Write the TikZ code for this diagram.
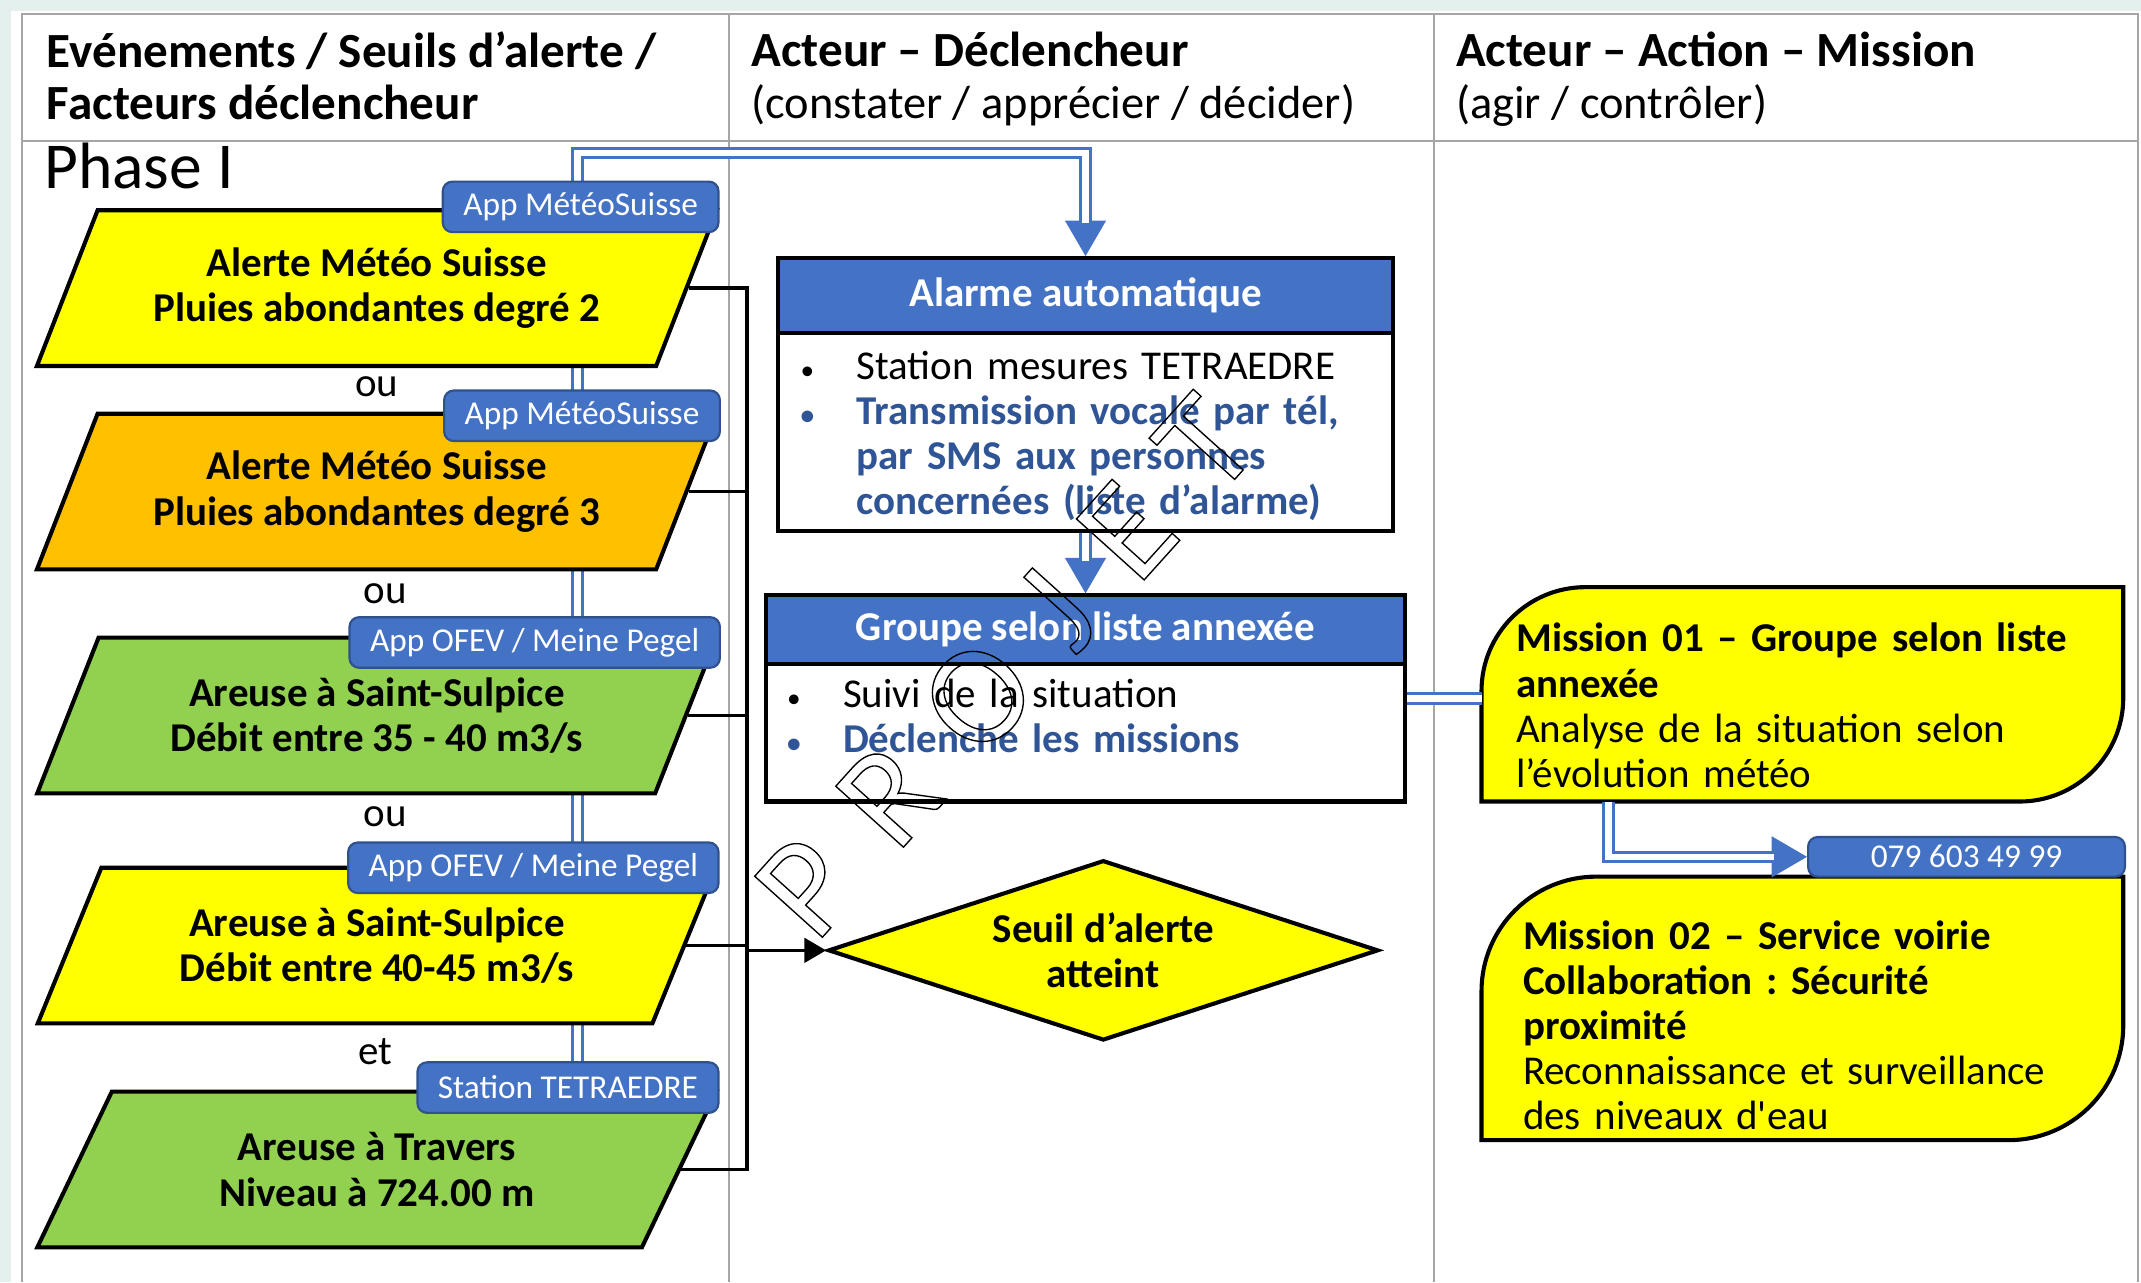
\documentclass[tikz,border=0pt]{standalone}
\usepackage{fontspec}
\setmainfont{Carlito}
\usetikzlibrary{shapes.geometric,arrows.meta,positioning,backgrounds,decorations.pathmorphing}

\definecolor{bandbg}{HTML}{E4F0EE}
\definecolor{gridgray}{HTML}{A6A6A6}
\definecolor{tagblue}{HTML}{4472C4}
\definecolor{tagedge}{HTML}{2F528F}
\definecolor{txtblue}{HTML}{2F5597}
\definecolor{evyellow}{HTML}{FFFF00}
\definecolor{evorange}{HTML}{FFC000}
\definecolor{evgreen}{HTML}{92D050}

\frenchspacing
\newcommand\bodyfont{\fontsize{15}{16.5}\selectfont}
\newcommand\hdrfont{\fontsize{18}{19}\selectfont}
\newcommand\subfont{\fontsize{17}{19}\selectfont}
\newcommand\tagfont{\fontsize{12.2}{14}\selectfont}
\newcommand\blt{\makebox[20.5pt][l]{\fontsize{10}{10}\selectfont\textbullet}}
\newcommand\dblto[1]{\draw[tipline] #1; \draw[dbl, shorten >=12pt] #1;}
\newcommand\wm{\hspace{17.5pt}}
\newlength\mpw

\tikzset{
  tableline/.style={draw=gridgray, line width=0.75pt},
  hdr/.style={font=\hdrfont, align=left, inner sep=0pt, anchor=north west},
  evt/.style={trapezium, trapezium left angle=59, trapezium right angle=121,
    trapezium stretches=true, minimum width=249pt, minimum height=57pt,
    draw=black, line width=1.5pt, inner sep=0pt, align=center, font=\bodyfont\bfseries},
  srctag/.style={draw=tagedge, fill=tagblue, line width=0.8pt, rounded corners=3.5pt,
    text=white, font=\tagfont, minimum height=18.5pt, inner xsep=7.5pt, inner ysep=0pt, anchor=east},
  typo/.style={draw=red, line width=0.4pt, decorate, decoration={snake, amplitude=0.6pt, segment length=2.2pt}},
  conj/.style={font=\bodyfont, inner sep=0pt},
  busline/.style={draw=black, line width=1.25pt},
  dbl/.style={draw=tagblue, double=white, line width=1.15pt, double distance=2.3pt},
  tipline/.style={draw=tagblue, line width=0.5pt, -{Triangle[width=15pt,length=13pt]}},
  boxframe/.style={draw=black, line width=1.5pt, fill=white},
  boxhead/.style={draw=black, line width=1.5pt, fill=tagblue, text=white, font=\bodyfont\bfseries, anchor=north},
  boxitems/.style={font=\bodyfont, text width=200pt, align=left, inner sep=0pt, anchor=north west},
  mission/.style={draw=black, line width=1.5pt, fill=evyellow},
  missiontext/.style={font=\bodyfont, text width=215pt, align=left, inner sep=0pt, anchor=north west},
  seuil/.style={diamond, aspect=3.05, draw=black, line width=1.5pt, fill=evyellow, minimum width=201.5pt,
    minimum height=66pt, inner sep=0pt, align=center, font=\bodyfont\bfseries}
}

\begin{document}
\begin{tikzpicture}[x=0.5pt, y=-0.5pt]
\useasboundingbox (0,0) rectangle (1568,939);

% fond + tableau
\begin{scope}[on background layer]
\fill[bandbg] (0,0) rectangle (1568,939);
\fill[white] (8,8) rectangle (1568,939);
\draw[tableline] (16,939) -- (16,10) -- (1566,10) -- (1566,939);
\draw[tableline] (16,103) -- (1566,103);
\draw[tableline] (534,10) -- (534,939);
\draw[tableline] (1050,10) -- (1050,939);
\end{scope}

\node[hdr] (h1) at (34,23) {\textbf{Evénements / Seuils d’alerte /}\\\textbf{Facteurs déclencheur}};
\node[hdr] (h2) at (550,23) {\textbf{Acteur – Déclencheur}\\{\subfont(constater / apprécier / décider)}};
\node[hdr] (h3) at (1066,23) {\textbf{Acteur – Action – Mission}\\{\subfont(agir / contrôler)}};
\node[anchor=base west, inner sep=0pt, font=\fontsize{24}{26}\selectfont] (phase) at (32,138) {Phase I};

% evenements
\node[evt, fill=evyellow] (ev1) at (276,211) {Alerte Météo Suisse\\Pluies abondantes degré 2};
\node[srctag] (t1) at (527,151.5) {App MétéoSuisse};
\node[conj] (ou1) at (276,283) {ou};
\node[evt, fill=evorange] (ev2) at (276,360) {Alerte Météo Suisse\\Pluies abondantes degré 3};
\node[srctag] (t2) at (528,304.5) {App MétéoSuisse};
\node[conj] (ou2) at (282,435) {ou};
\node[evt, fill=evgreen] (ev3) at (276,524) {Areuse à Saint-Sulpice\\Débit entre 35 - 40 m3/s};
\node[srctag] (t3) at (528,470.5) {App OFEV / Meine Pegel};
\node[conj] (ou3) at (282,598) {ou};
\node[evt, fill=evyellow] (ev4) at (276,692.5) {Areuse à Saint-Sulpice\\Débit entre 40-45 m3/s};
\node[srctag] (t4) at (527,635.5) {App OFEV / Meine Pegel};
\node[conj] (et1) at (275,770) {et};
\node[evt, fill=evgreen] (ev5) at (276,856.5) {Areuse à Travers\\Niveau à 724.00 m};
\node[srctag] (t5) at (527,796.5) {Station TETRAEDRE};

% soulignement correcteur
\settowidth{\mpw}{\tagfont Meine Pegel}
\foreach \t in {t3,t4}
  \draw[typo] ([xshift=-7.5pt,yshift=-2pt]\t.base east) -- ++(-\mpw,0pt);

% acteur - declencheur
\node[boxframe, minimum width=225pt, minimum height=100pt] (alarme) at (795,289) {};
\node[boxhead, minimum width=225pt, minimum height=27.5pt] (alarmehead) at (alarme.north) {Alarme automatique};
\node[boxitems] (alarmelist) at (586,257) {\blt Station mesures TETRAEDRE\\
  {\color{txtblue}\bfseries\blt Transmission vocale par tél,\\
  \hspace*{20.5pt}par SMS aux personnes\\
  \hspace*{20.5pt}concernées (liste d’alarme)}};

\node[boxframe, minimum width=234pt, minimum height=75.5pt] (groupe) at (795,511.5) {};
\node[boxhead, minimum width=234pt, minimum height=25pt] (groupehead) at (groupe.north) {Groupe selon liste annexée};
\node[boxitems] (groupelist) at (576,497) {\blt Suivi de la situation\\
  {\color{txtblue}\bfseries\blt Déclenche les missions}};

\node[seuil] (seuil) at (808,696) {Seuil d’alerte\\atteint};

% bus noir
\coordinate (busx) at (547,0);
\draw[busline] (ev1.east) -- (ev1.east -| busx) -- (ev5.east -| busx) -- (ev5.east);
\foreach \e in {ev2,ev3,ev4} \draw[busline] (\e.east) -- (\e.east -| busx);
\draw[busline, -{Triangle[width=9pt,length=8pt]}] (seuil.west -| busx) -- (seuil.west);

% missions
\coordinate (m1nw) at (1085,430);
\coordinate (m1se) at (1555,587);
\draw[mission] (m1nw |- m1se) [rounded corners=38pt] -- (m1nw) [sharp corners] -- (m1nw -| m1se)
  [rounded corners=38pt] -- (m1se) [sharp corners] -- cycle;
\node[missiontext] (m1txt) at (1110,456) {\textbf{Mission 01 – Groupe selon liste}\\\textbf{annexée}\\
  Analyse de la situation selon\\l’évolution météo};

\coordinate (m2nw) at (1085,642);
\coordinate (m2se) at (1555,835);
\draw[mission] (m2nw |- m2se) [rounded corners=42pt] -- (m2nw) [sharp corners] -- (m2nw -| m2se)
  [rounded corners=42pt] -- (m2se) [sharp corners] -- cycle;
\node[missiontext] (m2txt) at (1115,674) {\textbf{Mission 02 – Service voirie}\\\textbf{Collaboration : Sécurité}\\
  \textbf{proximité}\\Reconnaissance et surveillance\\des niveaux d\textquotesingle eau};
\node[srctag, minimum height=14.5pt, minimum width=116pt, inner xsep=0pt] (tel) at (1557,627.5) {079 603 49 99};

% fleches doubles
\coordinate (topbend) at (0,112);
\begin{scope}[on background layer]
\dblto{([xshift=3.5pt]t5.north) -- ([xshift=3.5pt]t5.north |- topbend) -| (alarme.north)}
\end{scope}
\dblto{(alarme.south) -- (groupe.north)}
\draw[dbl] (groupe.east) -- (groupe.east -| m1nw);
\coordinate (m1out) at (1178,587);
\dblto{(m1out) |- (tel.west)}

% filigrane
\node[rotate=48, inner sep=0pt, font=\fontsize{52}{52}\selectfont] (projet) at (736,488)
  {\special{pdf:literal direct 1 Tr 0.5 w}P\wm R\wm O\wm J\wm E\wm T\special{pdf:literal direct 0 Tr}};
\end{tikzpicture}
\end{document}
